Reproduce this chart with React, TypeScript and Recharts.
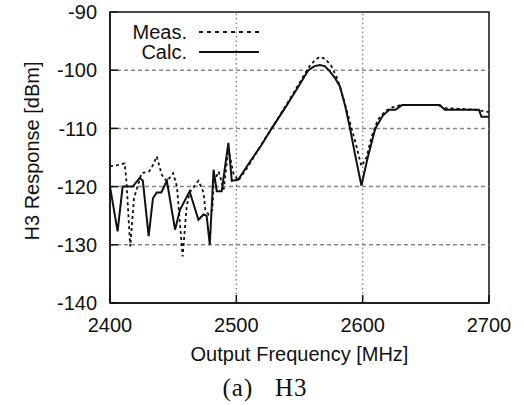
import React from "react";
import {
  LineChart,
  Line,
  XAxis,
  YAxis,
  ReferenceLine,
  ReferenceArea,
  Label,
} from "recharts";

// frequency axis [MHz] and response axis [dBm]
const xTicks = [2400, 2500, 2600, 2700];
const yTicks = [-140, -130, -120, -110, -100, -90];

// Calc. (solid)
const calcFreq = [
  2400, 2406, 2410, 2418, 2423.5, 2426, 2430.6, 2434, 2437, 2440.6, 2445, 2451.5,
  2455.4, 2463, 2470, 2474, 2476.5, 2479, 2482, 2484.5, 2488.4, 2493.7, 2496.4,
  2501.6, 2510, 2520, 2528, 2540, 2550, 2557, 2562, 2566, 2570, 2574, 2578, 2582,
  2586, 2590, 2594, 2599, 2604, 2610, 2616, 2621, 2626, 2631, 2661, 2665, 2692,
  2694, 2700,
];
const calcVal = [
  -120, -127.7, -120, -120, -118.5, -119, -128.5, -122, -121, -121, -119, -127.4,
  -124, -120.8, -125.7, -124.8, -125, -130, -117.1, -120.8, -120.8, -112.5, -119,
  -118.8, -116, -112.8, -110, -106, -102.5, -100, -99.3, -99.1, -99.3, -100.2,
  -101.3, -102.8, -106, -110, -114.5, -119.8, -115, -110, -107.8, -106.8, -106.8,
  -106, -106, -106.8, -106.8, -108, -108,
];

// Meas. (dotted)
const measFreq = [
  2400, 2406, 2411.6, 2413, 2416, 2419, 2425, 2431, 2434, 2437, 2441, 2445, 2450,
  2453, 2457.5, 2460.7, 2463, 2470, 2474, 2475.5, 2478, 2481, 2482, 2486, 2490,
  2493.7, 2497.6, 2501.6, 2510, 2520, 2530, 2540, 2550, 2557, 2562, 2566, 2570,
  2575, 2580, 2585, 2590, 2595, 2599, 2603, 2607, 2612, 2618, 2622, 2630, 2660,
  2665, 2690, 2700,
];
const measVal = [
  -116.5, -116.3, -116, -119, -130.3, -122, -117.7, -117.4, -116.3, -114.8, -118,
  -119.1, -117.7, -120, -132, -123.4, -121, -119, -121, -124, -124.8, -124, -119.4,
  -117.4, -120.5, -113.4, -117.7, -119, -116.3, -112.7, -109.3, -105.8, -102.2,
  -99.6, -98.3, -97.7, -98, -99.2, -101.5, -105, -109, -113, -116.5, -115, -111.5,
  -108.5, -107, -106.5, -106, -106, -106.5, -106.8, -107.2,
];

const legendItems = [
  { name: "Meas.", dash: "4 4" },
  { name: "Calc.", dash: undefined },
];

const calcData = calcFreq.map((f, i) => ({ f, v: calcVal[i] }));
const measData = measFreq.map((f, i) => ({ f, v: measVal[i] }));

const font = "'Liberation Sans', Arial, Helvetica, sans-serif";

export default function App() {
  return (
    <div style={{ position: "relative", width: 524, height: 405 }}>
      <style>{`body{margin:0}`}</style>
      <LineChart
        width={524}
        height={405}
        margin={{ top: 12, right: 35, left: 0, bottom: 72 }}
        style={{ fontFamily: font }}
      >
        <XAxis
          dataKey="f"
          type="number"
          domain={[2400, 2700]}
          ticks={xTicks}
          allowDataOverflow
          height={30}
          tickSize={-8}
          tickMargin={23}
          axisLine={{ stroke: "#111", strokeWidth: 1.5 }}
          tickLine={{ stroke: "#111", strokeWidth: 1.5 }}
          tick={{ fontSize: 20, fill: "#111" }}
        >
          <Label
            value="Output Frequency [MHz]"
            position="bottom"
            offset={14}
            style={{ fontSize: 20, fill: "#111" }}
          />
        </XAxis>
        <YAxis
          type="number"
          domain={[-140, -90]}
          ticks={yTicks}
          allowDataOverflow
          width={110}
          tickSize={-8}
          tickMargin={21}
          axisLine={{ stroke: "#111", strokeWidth: 1.5 }}
          tickLine={{ stroke: "#111", strokeWidth: 1.5 }}
          tick={{ fontSize: 20, fill: "#111" }}
        >
          <Label
            content={() => (
              <text
                x={31.5}
                y={151}
                transform="rotate(-90 31.5 151)"
                textAnchor="middle"
                dominantBaseline="central"
                style={{ fontSize: 20, fill: "#111", fontFamily: font }}
              >
                H3 Response [dBm]
              </text>
            )}
          />
        </YAxis>
        {yTicks.slice(1, -1).map((t) => (
          <ReferenceLine key={`y${t}`} y={t} stroke="#888" strokeWidth={1.5} strokeDasharray="4 3" />
        ))}
        {xTicks.slice(1, -1).map((t) => (
          <ReferenceLine key={`x${t}`} x={t} stroke="#888" strokeWidth={1.5} strokeDasharray="1.5 3" />
        ))}
        <ReferenceArea
          x1={xTicks[0]}
          x2={xTicks[xTicks.length - 1]}
          y1={yTicks[0]}
          y2={yTicks[yTicks.length - 1]}
          fill="none"
          fillOpacity={0}
          stroke="#111"
          strokeWidth={1.5}
          strokeOpacity={1}
          ifOverflow="visible"
        />
        <Line
          data={measData}
          dataKey="v"
          name="Meas."
          stroke="#111"
          strokeWidth={1.8}
          strokeDasharray="3 3"
          dot={false}
          type="linear"
          isAnimationActive={false}
        />
        <Line
          data={calcData}
          dataKey="v"
          name="Calc."
          stroke="#111"
          strokeWidth={2}
          dot={false}
          type="linear"
          isAnimationActive={false}
        />
      </LineChart>
      <div
        style={{
          position: "absolute",
          left: 129,
          top: 22,
          fontFamily: font,
          fontSize: 20,
          lineHeight: "20px",
          color: "#111",
        }}
      >
        {legendItems.map((it) => (
          <div key={it.name} style={{ display: "flex", alignItems: "center", height: 20 }}>
            <span style={{ width: 58, textAlign: "right" }}>{it.name}</span>
            <svg width={72} height={20} style={{ marginLeft: 12 }}>
              <line x1={0} y1={10} x2={60} y2={10} stroke="#111" strokeWidth={2} strokeDasharray={it.dash} />
            </svg>
          </div>
        ))}
      </div>
      <div
        style={{
          position: "absolute",
          left: 0,
          width: 530,
          top: 374,
          lineHeight: "28px",
          textAlign: "center",
          fontFamily: "'Liberation Serif', 'Times New Roman', serif",
          fontSize: 25,
          letterSpacing: 1,
          whiteSpace: "pre",
          color: "#111",
        }}
      >
        {"(a)   H3"}
      </div>
    </div>
  );
}
